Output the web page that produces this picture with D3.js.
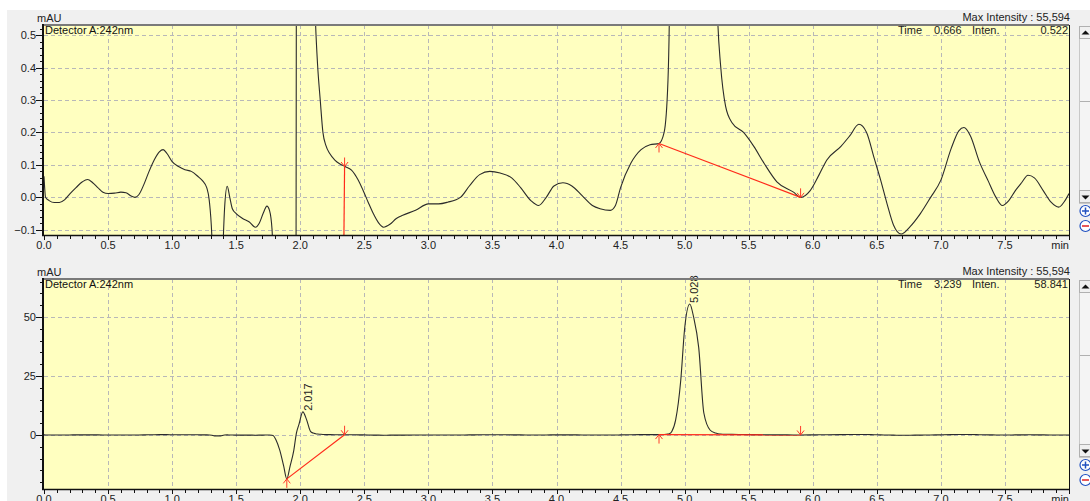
<!DOCTYPE html>
<html>
<head>
<meta charset="utf-8">
<style>
body { margin: 0; background: #fff; }
svg { display: block; font-family: "Liberation Sans", Arial, sans-serif; }
</style>
<script src="https://cdn.jsdelivr.net/npm/d3@7"></script>
</head>
<body>
<svg width="1090" height="501"></svg>
<script>
// chromatogram, detector A 242nm (time in min, signal in mAU)
var traceTime = [0.000, 0.005, 0.012, 0.04, 0.08, 0.12, 0.16, 0.20, 0.25, 0.30, 0.34, 0.38, 0.42, 0.46, 0.50,
    0.55, 0.60, 0.64, 0.68, 0.71, 0.74, 0.78, 0.82, 0.86, 0.90, 0.93, 0.96, 1.00, 1.05, 1.10, 1.15, 1.20,
    1.24, 1.27, 1.29, 1.31, 1.33, 1.38, 1.40, 1.41, 1.43, 1.45, 1.47, 1.50, 1.55, 1.60, 1.65, 1.68, 1.71,
    1.74, 1.76, 1.78, 1.79, 1.81, 1.84, 1.87, 1.895, 1.92, 1.95, 1.97, 1.99, 2.02, 2.05, 2.08, 2.10, 2.12,
    2.135, 2.156, 2.177, 2.20, 2.23, 2.27, 2.31, 2.35, 2.40, 2.45, 2.49, 2.53, 2.57, 2.61, 2.65, 2.70, 2.75,
    2.80, 2.90, 3.00, 3.08, 3.15, 3.25, 3.32, 3.40, 3.48, 3.56, 3.65, 3.72, 3.80, 3.86, 3.92, 3.98, 4.05,
    4.12, 4.20, 4.28, 4.34, 4.42, 4.46, 4.50, 4.58, 4.66, 4.73, 4.80, 4.84, 4.87, 4.88, 4.90, 4.93, 4.97,
    5.00, 5.04, 5.07, 5.11, 5.15, 5.20, 5.24, 5.26, 5.28, 5.32, 5.37, 5.46, 5.54, 5.62, 5.72, 5.85, 5.905,
    5.98, 6.05, 6.11, 6.22, 6.29, 6.36, 6.42, 6.48, 6.53, 6.58, 6.63, 6.69, 6.76, 6.84, 6.92, 7.00, 7.08,
    7.14, 7.18, 7.23, 7.30, 7.37, 7.43, 7.48, 7.53, 7.58, 7.63, 7.68, 7.73, 7.80, 7.86, 7.92, 7.96, 8.00];
var traceMAU = [0.065, 0.03, 0.0, -0.01, -0.016, -0.016, -0.008, 0.01, 0.03, 0.048, 0.055, 0.045, 0.03, 0.016, 0.012,
    0.013, 0.016, 0.014, 0.004, 0.0, 0.008, 0.04, 0.08, 0.115, 0.14, 0.147, 0.135, 0.11, 0.095, 0.085, 0.08, 0.065,
    0.05, 0.03, -0.01, -0.12, -0.4, -0.4, -0.12, -0.03, 0.034, 0.0, -0.035, -0.05, -0.065, -0.075, -0.092, -0.08, -0.05,
    -0.027, -0.04, -0.1, -0.3, -2, -6.4, -13, -18.6, -13.4, -6.4, 0.8, 4.5, 9.8, 6.4, 1.5, 0.8, 0.53,
    0.41, 0.30, 0.20, 0.16, 0.135, 0.115, 0.103, 0.095, 0.084, 0.055, 0.022, -0.015, -0.05, -0.078, -0.092, -0.083, -0.065,
    -0.055, -0.04, -0.02, -0.02, -0.015, 0.0, 0.035, 0.07, 0.08, 0.075, 0.06, 0.03, -0.01, -0.025, 0.0, 0.035, 0.045,
    0.035, 0.005, -0.025, -0.035, -0.04, -0.025, 0.03, 0.105, 0.147, 0.162, 0.166, 0.2, 0.36, 0.53, 1.5, 6.4, 23.3,
    45, 55.5, 50, 37, 9.3, 2, 0.8, 0.53, 0.41, 0.28, 0.23, 0.2, 0.157, 0.105, 0.048, 0.016, 0.0,
    0.021, 0.07, 0.115, 0.157, 0.19, 0.225, 0.2, 0.12, 0.053, -0.02, -0.085, -0.113, -0.09, -0.05, 0.0, 0.053, 0.15,
    0.205, 0.215, 0.19, 0.11, 0.05, 0.0, -0.025, -0.01, 0.02, 0.045, 0.068, 0.06, 0.02, -0.015, -0.03, -0.015, 0.012];

// integration baselines and peak tops
var baselineStart = [[1.895, -18.6], [4.80, 0.166]];
var baselineEnd = [[2.346, 0.095], [5.905, 0.0]];
var peakTimes = [2.017, 5.028];
var peakHeights = [9.8, 55.5];

var xMajorTicks = [0, 0.5, 1, 1.5, 2, 2.5, 3, 3.5, 4, 4.5, 5, 5.5, 6, 6.5, 7, 7.5];
var topYTicks = [-0.1, 0, 0.1, 0.2, 0.3, 0.4, 0.5];
var bottomYTicks = [0, 25, 50];
var cursorTime = ["0.666", "3.239"];
var cursorInten = ["0.522", "58.841"];
var maxIntensity = "55,594";

var svg = d3.select("svg");
var width = +svg.attr("width");
var height = +svg.attr("height");

// window background
svg.append("rect").attr("x", 7).attr("y", 10).attr("width", width - 7).attr("height", height - 10).attr("fill", "#f0f0f0");

var trace = traceTime.map(function (t, i) { return [t, traceMAU[i]]; });

var x = d3.scaleLinear().domain([0, 8]).range([44, 1069]);

var panels = [
    { top: 25, bottom: 235, domain: [-0.116, 0.531], ticks: topYTicks, minor: 0.02, fmt: d3.format(".1f"), i: 0 },
    { top: 279, bottom: 489, domain: [-22.9, 66.1], ticks: bottomYTicks, minor: 5, fmt: d3.format("d"), i: 1 }
];

panels.forEach(drawPanel);

function drawPanel(p) {
    var y = d3.scaleLinear().domain(p.domain).range([p.bottom, p.top]);
    var g = svg.append("g");
    var clipId = "clip" + p.i;

    g.append("clipPath").attr("id", clipId).append("rect")
        .attr("x", x.range()[0]).attr("y", p.top)
        .attr("width", x.range()[1] - x.range()[0]).attr("height", p.bottom - p.top);

    g.append("rect")
        .attr("x", x.range()[0]).attr("y", p.top)
        .attr("width", x.range()[1] - x.range()[0]).attr("height", p.bottom - p.top)
        .attr("fill", "#ffffc0");

    // grid
    g.append("g").selectAll("line").data(xMajorTicks.slice(1)).enter().append("line")
        .attr("x1", function (d) { return Math.round(x(d)) + 0.5; })
        .attr("x2", function (d) { return Math.round(x(d)) + 0.5; })
        .attr("y1", p.top).attr("y2", p.bottom)
        .attr("stroke", "#b8b8b8").attr("stroke-dasharray", "4,3");
    g.append("g").selectAll("line").data(p.ticks).enter().append("line")
        .attr("x1", x.range()[0]).attr("x2", x.range()[1])
        .attr("y1", function (d) { return Math.round(y(d)) + 0.5; })
        .attr("y2", function (d) { return Math.round(y(d)) + 0.5; })
        .attr("stroke", "#b8b8b8").attr("stroke-dasharray", "4,3");

    var plot = g.append("g").attr("clip-path", "url(#" + clipId + ")");

    var line = d3.line()
        .x(function (d) { return x(d[0]); })
        .y(function (d) { return y(d[1]); })
        .curve(d3.curveMonotoneX);

    plot.append("path").datum(trace)
        .attr("d", line)
        .attr("fill", "none")
        .attr("stroke", "#2b2b2b")
        .attr("stroke-width", 1.1);

    // baselines
    plot.selectAll(".base").data(baselineStart).enter().append("line")
        .attr("x1", function (d) { return x(d[0]); })
        .attr("y1", function (d) { return y(d[1]); })
        .attr("x2", function (d, i) { return x(baselineEnd[i][0]); })
        .attr("y2", function (d, i) { return y(baselineEnd[i][1]); })
        .attr("stroke", "#ff2a1a").attr("stroke-width", 1.2);

    function inRange(v) { return v >= p.domain[0] && v <= p.domain[1]; }

    // start (up) and end (down) markers
    plot.selectAll(".ms").data(baselineStart.filter(function (d) { return inRange(d[1]); })).enter().append("path")
        .attr("d", function (d) {
            var px = x(d[0]), py = y(d[1]);
            return "M" + px + "," + py + "V" + (py + 9) + "M" + (px - 3.5) + "," + (py + 4.5) + "L" + px + "," + py + "L" + (px + 3.5) + "," + (py + 4.5);
        })
        .attr("fill", "none").attr("stroke", "#ff3a2a").attr("stroke-width", 1);
    plot.selectAll(".me").data(baselineEnd.filter(function (d) { return inRange(d[1]); })).enter().append("path")
        .attr("d", function (d) {
            var px = x(d[0]), py = y(d[1]);
            return "M" + px + "," + py + "V" + (py - 9) + "M" + (px - 3.5) + "," + (py - 4.5) + "L" + px + "," + py + "L" + (px + 3.5) + "," + (py - 4.5);
        })
        .attr("fill", "none").attr("stroke", "#ff3a2a").attr("stroke-width", 1);

    // peak labels
    peakTimes.forEach(function (t, i) {
        if (!inRange(peakHeights[i])) return;
        g.append("text")
            .attr("transform", "translate(" + (x(t) + 10) + "," + (y(peakHeights[i]) - 1) + ") rotate(-90)")
            .attr("font-size", 11).attr("fill", "#222")
            .text(t.toFixed(3));
    });

    // frame
    g.append("line").attr("x1", 43).attr("x2", 1069).attr("y1", p.top).attr("y2", p.top)
        .attr("stroke", "#7a7a7a").attr("stroke-width", 2);
    g.append("line").attr("x1", 1069.5).attr("x2", 1069.5).attr("y1", p.top).attr("y2", p.bottom)
        .attr("stroke", "#111");
    g.append("line").attr("x1", 43).attr("x2", 43).attr("y1", p.top - 1).attr("y2", p.bottom + 1)
        .attr("stroke", "#111").attr("stroke-width", 2);
    g.append("line").attr("x1", 42).attr("x2", 1070).attr("y1", p.bottom + 0.5).attr("y2", p.bottom + 0.5)
        .attr("stroke", "#111").attr("stroke-width", 1.5);

    // y ticks
    var minorY = d3.range(Math.ceil(p.domain[0] / p.minor) * p.minor, p.domain[1], p.minor);
    g.append("g").selectAll("line").data(minorY).enter().append("line")
        .attr("x1", 40).attr("x2", 43)
        .attr("y1", function (d) { return Math.round(y(d)) + 0.5; })
        .attr("y2", function (d) { return Math.round(y(d)) + 0.5; })
        .attr("stroke", "#111");
    g.append("g").selectAll("line").data(p.ticks).enter().append("line")
        .attr("x1", 36).attr("x2", 43)
        .attr("y1", function (d) { return Math.round(y(d)) + 0.5; })
        .attr("y2", function (d) { return Math.round(y(d)) + 0.5; })
        .attr("stroke", "#111");
    g.append("g").selectAll("text").data(p.ticks).enter().append("text")
        .attr("x", 36).attr("y", function (d) { return y(d) + 4; })
        .attr("text-anchor", "end").attr("font-size", 11).attr("fill", "#222")
        .text(p.fmt);

    // x ticks
    g.append("g").selectAll("line").data(d3.range(0, 81).map(function (d) { return d / 10; })).enter().append("line")
        .attr("x1", function (d) { return Math.round(x(d)) + 0.5; })
        .attr("x2", function (d) { return Math.round(x(d)) + 0.5; })
        .attr("y1", p.bottom).attr("y2", function (d) { return p.bottom + (Math.abs(d * 2 - Math.round(d * 2)) < 1e-6 ? 5 : 4); })
        .attr("stroke", "#111");
    g.append("g").selectAll("text").data(xMajorTicks).enter().append("text")
        .attr("x", function (d) { return x(d); }).attr("y", p.bottom + 14)
        .attr("text-anchor", "middle").attr("font-size", 11).attr("fill", "#222")
        .text(d3.format(".1f"));
    g.append("text").attr("x", 1069).attr("y", p.bottom + 14)
        .attr("text-anchor", "end").attr("font-size", 11).attr("fill", "#222").text("min");

    // header texts
    g.append("text").attr("x", 37).attr("y", p.top - 3).attr("font-size", 11).attr("fill", "#222").text("mAU");
    g.append("text").attr("x", 45).attr("y", p.top + 9).attr("font-size", 11).attr("fill", "#111").text("Detector A:242nm");
    g.append("text").attr("x", 1070).attr("y", p.top - 4).attr("text-anchor", "end").attr("font-size", 11)
        .attr("fill", "#222").text("Max Intensity :  " + maxIntensity);
    g.append("text").attr("x", 898).attr("y", p.top + 9).attr("font-size", 11).attr("fill", "#222").text("Time");
    g.append("text").attr("x", 934).attr("y", p.top + 9).attr("font-size", 11).attr("fill", "#222").text(cursorTime[p.i]);
    g.append("text").attr("x", 972).attr("y", p.top + 9).attr("font-size", 11).attr("fill", "#222").text("Inten.");
    g.append("text").attr("x", 1068).attr("y", p.top + 9).attr("text-anchor", "end").attr("font-size", 11)
        .attr("fill", "#222").text(cursorInten[p.i]);

    drawScroller(p);
}

function drawScroller(p) {
    var s = svg.append("g");
    var top = p.top + 1, downY = p.bottom - 50 + 5;
    s.append("rect").attr("x", 1079.5).attr("y", top + 0.5).attr("width", 12).attr("height", downY + 13 - top)
        .attr("fill", "#f4f4f4").attr("stroke", "#c8c8c8");
    s.append("rect").attr("x", 1079.5).attr("y", top + 0.5).attr("width", 12).attr("height", 12)
        .attr("fill", "#f0f0f0").attr("stroke", "#b0b0b0");
    s.append("path").attr("d", "M1081.5," + (top + 8.5) + "l4,-4l4,4z").attr("fill", "#111");
    s.append("line").attr("x1", 1080).attr("x2", 1090).attr("y1", top + 75.5).attr("y2", top + 75.5).attr("stroke", "#b0b0b0");
    s.append("rect").attr("x", 1079.5).attr("y", downY + 0.5).attr("width", 12).attr("height", 12)
        .attr("fill", "#f0f0f0").attr("stroke", "#b0b0b0");
    s.append("path").attr("d", "M1081.5," + (downY + 5.5) + "l4,4l4,-4z").attr("fill", "#111");
    // zoom in / zoom out icons
    var zy = [p.bottom - 24, p.bottom - 9];
    zy.forEach(function (cy, k) {
        s.append("circle").attr("cx", 1085.5).attr("cy", cy).attr("r", 5.5)
            .attr("fill", "#fff").attr("stroke", "#2050c0").attr("stroke-width", 1.2);
        s.append("line").attr("x1", 1082).attr("x2", 1089).attr("y1", cy).attr("y2", cy)
            .attr("stroke", k ? "#e02020" : "#2050c0").attr("stroke-width", 1.5);
        if (!k) s.append("line").attr("x1", 1085.5).attr("x2", 1085.5).attr("y1", cy - 3.5).attr("y2", cy + 3.5)
            .attr("stroke", "#2050c0").attr("stroke-width", 1.5);
    });
}
</script>
</body>
</html>
